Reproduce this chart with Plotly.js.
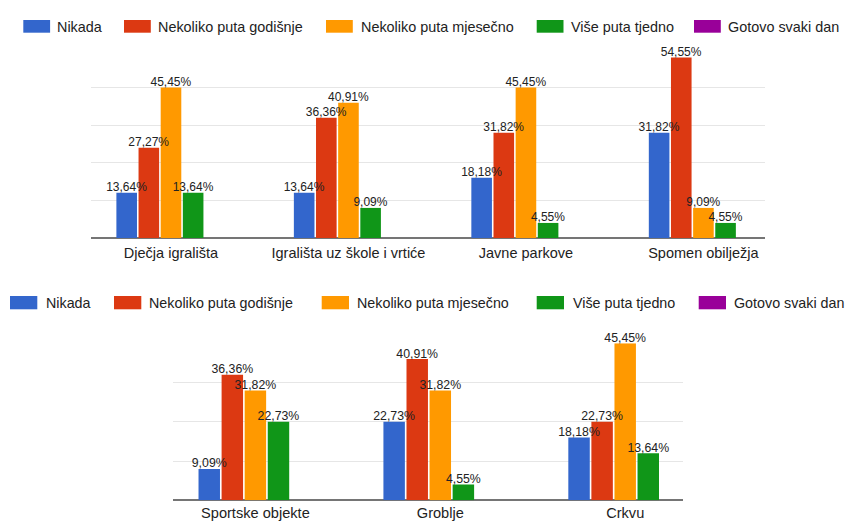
<!DOCTYPE html>
<html>
<head>
<meta charset="utf-8">
<script src="https://cdn.plot.ly/plotly-3.0.1.min.js"></script>
<style>html,body{margin:0;padding:0;background:#fff;}#chart{width:845px;height:523px;}</style>
</head>
<body>
<div id="chart"></div>
<script>
// ---- data ----
const seriesNames = ["Nikada", "Nekoliko puta godišnje", "Nekoliko puta mjesečno", "Više puta tjedno", "Gotovo svaki dan"];
const seriesColors = ["#3366cc", "#dc3912", "#ff9900", "#109618", "#990099"];

const topCategories = ["Dječja igrališta", "Igrališta uz škole i vrtiće", "Javne parkove", "Spomen obilježja"];
const topNikada     = [13.64, 13.64, 18.18, 31.82];
const topGodisnje   = [27.27, 36.36, 31.82, 54.55];
const topMjesecno   = [45.45, 40.91, 45.45, 9.09];
const topTjedno     = [13.64, 9.09, 4.55, 4.55];
const topSvakiDan   = [0, 0, 0, 0];

const bottomCategories = ["Sportske objekte", "Groblje", "Crkvu"];
const bottomNikada     = [9.09, 22.73, 18.18];
const bottomGodisnje   = [36.36, 40.91, 22.73];
const bottomMjesecno   = [31.82, 31.82, 45.45];
const bottomTjedno     = [22.73, 4.55, 13.64];
const bottomSvakiDan   = [0, 0, 0];

const respondents = 22;

// ---- helpers ----
const W = 845, H = 523;
const FONT = 'Arial, "Liberation Sans", sans-serif';
function fmt(v) { return v > 0 ? v.toFixed(2).replace('.', ',') + '%' : ''; }
function pxX(p) { return p / W; }
function pxY(p) { return 1 - p / H; }

const topSeries = [topNikada, topGodisnje, topMjesecno, topTjedno, topSvakiDan];
const bottomSeries = [bottomNikada, bottomGodisnje, bottomMjesecno, bottomTjedno, bottomSvakiDan];

const traces = [];
// bars
function addBars(cats, series, xa, ya) {
  series.forEach((vals, i) => {
    traces.push({
      type: 'bar', name: seriesNames[i], x: cats, y: vals, xaxis: xa, yaxis: ya,
      marker: { color: seriesColors[i] }, showlegend: false, hoverinfo: 'none'
    });
  });
}
// value labels, on an overlay axis so they sit above every bar
function addLabels(cats, series, xa, ya, size) {
  series.forEach((vals, i) => {
    traces.push({
      type: 'bar', name: seriesNames[i], x: cats, y: vals, xaxis: xa, yaxis: ya,
      marker: { color: 'rgba(0,0,0,0)' }, showlegend: false, hoverinfo: 'none',
      text: vals.map(fmt), textposition: 'outside', constraintext: 'none', cliponaxis: false,
      textfont: { family: FONT, size: size, color: '#222222' }
    });
  });
}
addBars(topCategories, topSeries, 'x', 'y');
addBars(bottomCategories, bottomSeries, 'x2', 'y2');
addLabels(topCategories, topSeries, 'x', 'y3', 12);
addLabels(bottomCategories, bottomSeries, 'x2', 'y4', 12.3);

const step = 2.5 * 100 / respondents; // gridline every 2.5 respondents
const topMax = 12.5 * 100 / respondents;
const botMax = 10 * 100 / respondents;

const yCommon = {
  showticklabels: false, ticks: '', dtick: step, tick0: 0,
  showgrid: true, gridcolor: '#e6e6e6', gridwidth: 1,
  zeroline: true, zerolinecolor: '#757575', zerolinewidth: 2,
  showline: false, fixedrange: true
};
const xCommon = {
  type: 'category', showgrid: false, zeroline: false, showline: false, ticks: '',
  fixedrange: true
};
const yOverlay = { visible: false, showgrid: false, zeroline: false, fixedrange: true };

// label offset so the text sits just above each bar (≈4.5 px)
const topShift = 4.5 * topMax / 188;
const botShift = 4.5 * botMax / 157;

// manual legend (Google-Charts style wide swatches)
const topLegendSwatchX = [23.3, 124, 326, 536.7, 694];
const topLegendTextX   = [56, 157.3, 359.5, 570, 727.3];
const botLegendSwatchX = [10, 114, 321.7, 536.7, 698.7];
const botLegendTextX   = [45.3, 148.3, 356, 571.7, 733.3];

const shapes = [];
const annotations = [];
function addLegend(swX, txX, yTop, yBot, yText, swW, size) {
  seriesNames.forEach((n, i) => {
    shapes.push({
      type: 'rect', xref: 'paper', yref: 'paper', layer: 'above',
      x0: pxX(swX[i]), x1: pxX(swX[i] + swW), y0: pxY(yBot), y1: pxY(yTop),
      fillcolor: seriesColors[i], line: { width: 0 }
    });
    annotations.push({
      xref: 'paper', yref: 'paper', x: pxX(txX[i]), y: pxY(yText),
      xanchor: 'left', yanchor: 'middle', showarrow: false, borderpad: 0,
      text: n, font: { family: FONT, size: size, color: '#222222' }
    });
  });
}
addLegend(topLegendSwatchX, topLegendTextX, 20, 32.7, 27.3, 26.8, 14.4);
addLegend(botLegendSwatchX, botLegendTextX, 296, 309.3, 303, 27.3, 14.3);

const layout = {
  width: W, height: H,
  margin: { l: 0, r: 0, t: 0, b: 0, pad: 0 },
  paper_bgcolor: '#ffffff', plot_bgcolor: '#ffffff',
  font: { family: FONT, color: '#222222' },
  barmode: 'group', bargap: 0.376, bargroupgap: 0.07,
  showlegend: false,
  xaxis: Object.assign({}, xCommon, { domain: [pxX(91), pxX(765)], range: [-0.4507, 3.347], anchor: 'y',
    ticklabelstandoff: 4, tickfont: { family: FONT, size: 14.5, color: '#222222' } }),
  yaxis: Object.assign({}, yCommon, { domain: [pxY(238), pxY(50)], range: [0, topMax], anchor: 'x' }),
  xaxis2: Object.assign({}, xCommon, { domain: [pxX(172.7), pxX(682.7)], range: [-0.4473, 2.311], anchor: 'y2',
    ticklabelstandoff: 2, tickfont: { family: FONT, size: 14.6, color: '#222222' } }),
  yaxis2: Object.assign({}, yCommon, { domain: [pxY(500.3), pxY(343.3)], range: [0, botMax], anchor: 'x2' }),
  yaxis3: Object.assign({}, yOverlay, { overlaying: 'y', anchor: 'x', range: [topShift, topMax + topShift] }),
  yaxis4: Object.assign({}, yOverlay, { overlaying: 'y2', anchor: 'x2', range: [botShift, botMax + botShift] }),
  shapes: shapes,
  annotations: annotations
};

Plotly.newPlot('chart', traces, layout, { staticPlot: true, displayModeBar: false });
</script>
</body>
</html>
